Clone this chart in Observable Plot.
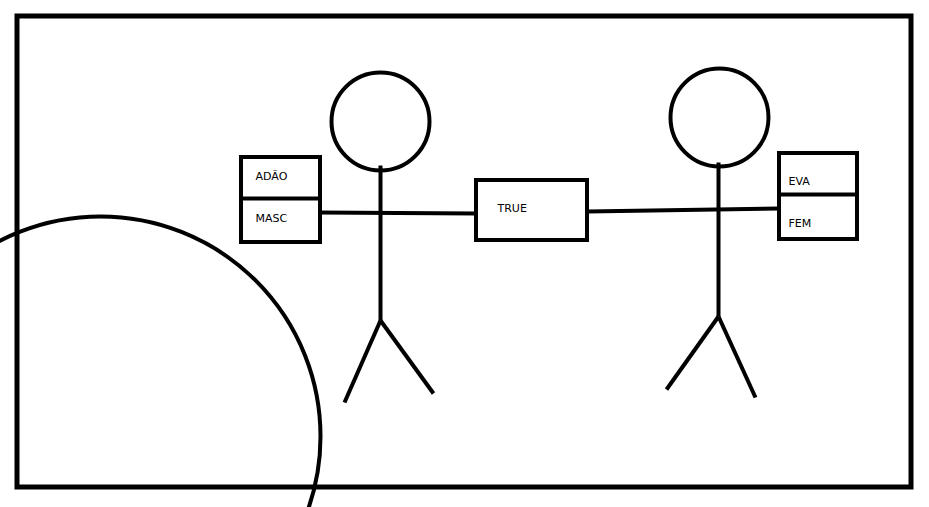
<!DOCTYPE html>
<html><head><meta charset="utf-8">
<script src="https://cdn.jsdelivr.net/npm/d3@7"></script>
<script src="https://cdn.jsdelivr.net/npm/@observablehq/plot@0.6"></script>
<style>body{margin:0;background:#fff}</style>
</head><body><div id="c"></div>
<script>
const frameBox = [{x1:17,y1:16,x2:911,y2:487}];
const boxes = [
  {x1:241,y1:157,x2:320,y2:242},
  {x1:476,y1:180,x2:587,y2:240},
  {x1:779,y1:153,x2:857,y2:239}
];
const heads = [{x:380,y:121,r:49},{x:719,y:117,r:49}];
const bigCircle = [{x:100,y:436,r:220}];
const segments = [
  {x1:380,y1:165,x2:380,y2:320},{x1:380,y1:320,x2:344,y2:402},{x1:380,y1:320,x2:433,y2:393},
  {x1:718,y1:162,x2:718,y2:316},{x1:718,y1:316,x2:666,y2:389},{x1:718,y1:316,x2:755,y2:397},
  {x1:318,y1:212,x2:476,y2:213},{x1:587,y1:211,x2:779,y2:208},
  {x1:241,y1:198,x2:320,y2:198},{x1:779,y1:194,x2:857,y2:194}
];
const labels = [
  {x:255,y:176,t:"ADÃO"},{x:255,y:218,t:"MASC"},{x:497,y:208,t:"TRUE"},
  {x:788,y:181,t:"EVA"},{x:788,y:223,t:"FEM"}
];
const W=929,H=507;
const plot = Plot.plot({
  width:W,height:H,margin:0,
  x:{domain:[0,W],range:[0,W],axis:null},
  y:{domain:[0,H],range:[0,H],axis:null},
  r:{type:"identity"},
  marks:[
    Plot.dot(bigCircle,{x:"x",y:"y",r:"r",stroke:"black",strokeWidth:4,fill:"none"}),
    Plot.rect(frameBox,{x1:"x1",y1:"y1",x2:"x2",y2:"y2",stroke:"black",strokeWidth:5,fill:"none"}),
    Plot.link(segments,{x1:"x1",y1:"y1",x2:"x2",y2:"y2",stroke:"black",strokeWidth:4}),
    Plot.rect(boxes,{x1:"x1",y1:"y1",x2:"x2",y2:"y2",stroke:"black",strokeWidth:4,fill:"none"}),
    Plot.dot(heads,{x:"x",y:"y",r:"r",stroke:"black",strokeWidth:4,fill:"none"}),
    Plot.text(labels,{x:"x",y:"y",text:"t",textAnchor:"start",fontSize:11,fontFamily:"DejaVu Sans",fill:"black"})
  ]
});
document.getElementById("c").append(plot);
</script></body></html>
